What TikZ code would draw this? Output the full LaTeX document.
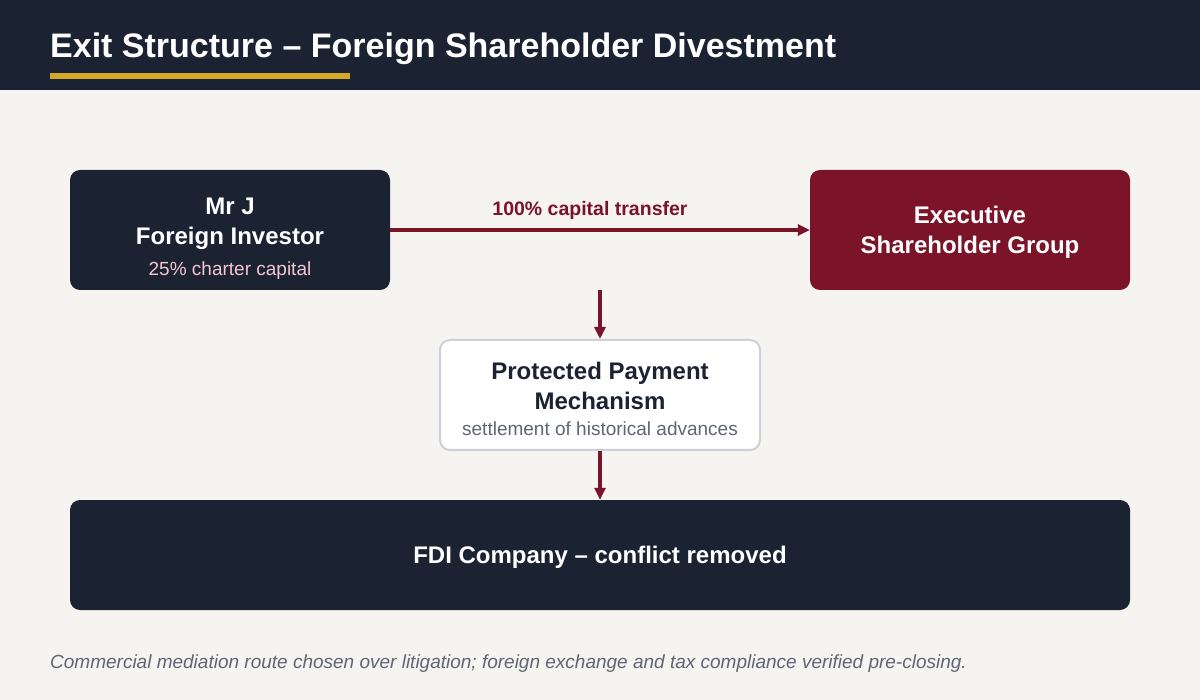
\documentclass[tikz,border=0pt]{standalone}
\usepackage{fontspec}
\setmainfont{Liberation Sans}
\usetikzlibrary{arrows.meta}
\definecolor{navy}{HTML}{1B2333}
\definecolor{crimson}{HTML}{7B1329}
\definecolor{bgc}{HTML}{F6F4F0}
\definecolor{gold}{HTML}{D4A82A}
\definecolor{pinkt}{HTML}{F4C6D0}
\definecolor{grayt}{HTML}{5F6573}
\definecolor{bordc}{HTML}{CDD0D6}
\begin{document}
\begin{tikzpicture}[x=1pt,y=-1pt,
  box/.style={rounded corners=10pt, minimum width=320pt, minimum height=120pt, inner sep=0pt},
  headt/.style={font=\fontsize{24}{28}\selectfont\bfseries, anchor=base, inner sep=0pt},
  subt/.style={font=\fontsize{19}{22}\selectfont, anchor=base, inner sep=0pt},
  conn/.style={draw=crimson, line width=3.5pt, -{Triangle[length=12pt,width=11pt]}}]
\useasboundingbox (0,0) rectangle (1200,700);
\fill[bgc] (0,0) rectangle (1200,700);
\fill[navy] (0,0) rectangle (1200,90);
\node[anchor=base west, font=\fontsize{34}{40}\selectfont\bfseries, text=white, inner sep=0pt] (title) at (50,58) {Exit Structure – Foreign Shareholder Divestment};
\fill[gold] (50,73) rectangle (350,79);
% boxes
\node[box, fill=navy] (inv) at (230,230) {};
\node[box, fill=crimson] (esg) at (970,230) {};
\node[box, fill=white, draw=bordc, line width=2pt, minimum height=110pt] (ppm) at (600,395) {};
\node[box, fill=navy, minimum width=1060pt, minimum height=110pt] (fdi) at (600,555) {};
% texts
\node[headt, text=white] (inv1) at (230,215) {Mr J};
\node[headt, text=white] (inv2) at (230,245) {Foreign Investor};
\node[subt, text=pinkt] (inv3) at (230,276) {25\% charter capital};
\node[headt, text=white] (esg1) at (970,224) {Executive};
\node[headt, text=white] (esg2) at (970,254) {Shareholder Group};
\node[headt, text=navy] (ppm1) at (600,380) {Protected Payment};
\node[headt, text=navy] (ppm2) at (600,410) {Mechanism};
\node[subt, text=grayt] (ppm3) at (600,436) {settlement of historical advances};
\node[headt, text=white] (fdi1) at (600,563) {FDI Company – conflict removed};
% connectors
\draw[conn] (inv.east) -- (esg.west);
\node[font=\fontsize{19.5}{23}\selectfont\bfseries, text=crimson, anchor=base, inner sep=0pt] (lbl) at (590,216) {100\% capital transfer};
\coordinate (a1) at (600,290);
\draw[conn] (a1) -- (ppm.north);
\draw[conn] (ppm.south) -- (fdi.north);
% footer
\node[anchor=base west, font=\fontsize{19}{22}\selectfont\itshape, text=grayt, inner sep=0pt] (foot) at (50,668) {Commercial mediation route chosen over litigation; foreign exchange and tax compliance verified pre-closing.};
\end{tikzpicture}
\end{document}
